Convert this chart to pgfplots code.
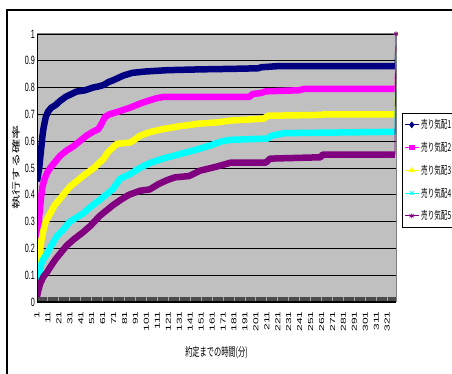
\documentclass[border=0pt]{standalone}
\usepackage{fontspec}
\setmainfont{Liberation Sans}
\newfontfamily\jp{Noto Sans CJK JP}
\usepackage{graphicx}
\usepackage{pgfplots}
\pgfplotsset{compat=1.18}
\usepackage{pgfplotstable}

\definecolor{sA}{RGB}{0,0,128}
\definecolor{sB}{RGB}{255,0,255}
\definecolor{sC}{RGB}{255,255,0}
\definecolor{sD}{RGB}{0,255,255}
\definecolor{sE}{RGB}{128,0,128}
\definecolor{plotbg}{RGB}{192,192,192}

% narrow text, as in the original spreadsheet export
\newcommand\sq[1]{\scalebox{0.6}[1]{#1}}
\newcommand\xl[1]{\scalebox{0.6}[1]{\rotatebox{90}{#1}}}

% minutes until execution vs. probability of execution
\pgfplotstableread{
m v
1 0.45
3 0.50
4 0.54
5 0.58
6 0.62
7 0.65
8 0.67
9 0.69
11 0.71
14 0.725
18 0.735
22 0.75
27 0.765
32 0.775
37 0.785
45 0.79
52 0.80
58 0.805
62 0.81
66 0.82
72 0.83
80 0.845
88 0.855
100 0.86
120 0.865
150 0.868
180 0.87
203 0.872
206 0.876
221 0.88
328 0.88
}\tA
\pgfplotstableread{
m v
1 0.16
2 0.26
3 0.32
4 0.36
5 0.40
6 0.43
8 0.46
10 0.48
13 0.50
17 0.52
22 0.545
28 0.565
34 0.58
40 0.60
46 0.62
52 0.635
57 0.645
60 0.665
63 0.69
67 0.70
75 0.71
86 0.725
95 0.74
102 0.75
110 0.76
116 0.765
195 0.765
198 0.776
206 0.78
210 0.786
240 0.79
245 0.795
328 0.795
}\tB
\pgfplotstableread{
m v
1 0.07
2 0.13
3 0.17
4 0.20
5 0.23
7 0.27
9 0.30
13 0.33
17 0.36
22 0.385
27 0.41
31 0.43
37 0.45
43 0.47
48 0.485
53 0.50
58 0.52
62 0.535
66 0.56
70 0.575
74 0.59
86 0.595
90 0.605
95 0.62
105 0.635
116 0.645
130 0.655
148 0.665
165 0.67
178 0.677
208 0.684
212 0.695
260 0.698
263 0.70
328 0.70
}\tC
\pgfplotstableread{
m v
1 0.035
2 0.07
3 0.10
4 0.13
6 0.155
10 0.18
14 0.21
19 0.245
25 0.27
31 0.30
37 0.315
43 0.33
50 0.355
58 0.38
64 0.40
70 0.42
77 0.46
85 0.475
95 0.50
105 0.52
116 0.535
130 0.55
148 0.57
160 0.585
170 0.60
178 0.605
212 0.61
215 0.62
227 0.63
328 0.635
}\tD
\pgfplotstableread{
m v
1 0.02
2 0.04
4 0.07
7 0.095
10 0.11
13 0.13
18 0.16
23 0.185
28 0.21
35 0.235
43 0.26
50 0.285
58 0.32
64 0.34
70 0.36
77 0.38
85 0.40
95 0.415
104 0.42
112 0.44
120 0.455
127 0.465
140 0.47
150 0.49
165 0.505
178 0.52
210 0.52
214 0.535
260 0.54
262 0.55
328 0.55
}\tE

\begin{document}
\begin{tikzpicture}[x=1pt,y=1pt]
\useasboundingbox (0,0) rectangle (452,374);
% chart frame
\draw[black, line width=1.2pt] (7,-20) -- (7,364) -- (480,364);
\begin{axis}[
  at={(37pt,72pt)}, anchor=south west,
  scale only axis, width=359pt, height=268pt,
  xmin=1, xmax=329, ymin=0, ymax=1,
  clip mode=individual,
  axis background/.style={fill=plotbg},
  axis line style={draw=gray, line width=1pt},
  tick pos=left,
  ytick={0,0.1,0.2,0.3,0.4,0.5,0.6,0.7,0.8,0.9,1},
  yticklabels={\sq{0},\sq{0.1},\sq{0.2},\sq{0.3},\sq{0.4},\sq{0.5},\sq{0.6},\sq{0.7},\sq{0.8},\sq{0.9},\sq{1}},
  yticklabel style={font=\fontsize{12}{14}\selectfont, inner sep=2pt},
  ytick style={draw=none},
  ymajorgrids,
  major grid style={black, line width=0.8pt},
  xtick={1,11,...,321},
  xticklabels={\xl{1},\xl{11},\xl{21},\xl{31},\xl{41},\xl{51},\xl{61},\xl{71},\xl{81},\xl{91},\xl{101},\xl{111},\xl{121},\xl{131},\xl{141},\xl{151},\xl{161},\xl{171},\xl{181},\xl{191},\xl{201},\xl{211},\xl{221},\xl{231},\xl{241},\xl{251},\xl{261},\xl{271},\xl{281},\xl{291},\xl{301},\xl{311},\xl{321}},
  xticklabel style={anchor=north, font=\fontsize{12}{14}\selectfont, yshift=-6pt},
  minor xtick={2,...,329},
  xtick align=inside,
  major tick length=4.5pt, minor tick length=4.5pt,
  major x tick style={gray!70, line width=0.9pt},
  minor x tick style={black!70, line width=1.15pt},
  xlabel={\jp\sq{約定までの時間(分)}},
  every axis x label/.style={at={(axis description cs:0.5,-0.19)}, anchor=center, font=\fontsize{12}{14}\selectfont},
  ylabel={\jp\sq{\rotatebox{90}{執行する確率}}},
  every axis y label/.style={at={(axis description cs:-0.0585,0.5)}, anchor=center, font=\fontsize{14}{16}\selectfont},
  legend image code/.code={\draw[mark repeat=2,mark phase=2] plot coordinates {(0pt,0pt)(7pt,0pt)(14pt,0pt)};},
  legend style={at={(axis description cs:1.0167,0.705)}, anchor=north west,
    draw=black, line width=0.8pt, fill=white,
    font=\fontsize{11}{13}\selectfont\jp, row sep=8pt,
    inner xsep=2pt, inner ysep=4pt, cells={anchor=west}},
  legend cell align=left,
]
\addplot[sA, line width=6.5pt, line join=round, forget plot] table[x=m,y=v] {\tA};
\addplot[sB, line width=6.5pt, line join=round, forget plot] table[x=m,y=v] {\tB};
\addplot[sC, line width=6.5pt, line join=round, forget plot] table[x=m,y=v] {\tC};
\addplot[sD, line width=6.5pt, line join=round, forget plot] table[x=m,y=v] {\tD};
\addplot[sE, line width=6.5pt, line join=round, forget plot] table[x=m,y=v] {\tE};
% final step to 1 at the last minute
\addplot[sA, line width=0.8pt, clip=false, forget plot, mark=diamond*, mark size=2pt, mark indices={2}] coordinates {(328,0.88) (329,1)};
\addplot[sB, line width=0.8pt, clip=false, forget plot, mark=square*, mark size=1.6pt, mark indices={2}] coordinates {(328,0.795) (329,1)};
\addplot[sC, line width=0.8pt, clip=false, forget plot, mark=triangle*, mark size=2pt, mark indices={2}] coordinates {(328,0.70) (329,1)};
\addplot[sD, line width=0.8pt, clip=false, forget plot, mark=x, mark size=2pt, mark indices={2}] coordinates {(328,0.635) (329,1)};
\addplot[sE, line width=0.8pt, clip=false, forget plot, mark=asterisk, mark size=2pt, mark indices={2}] coordinates {(328,0.55) (329,1)};
% left and bottom edges of the plot area
\draw[black, line width=1pt] (rel axis cs:0,1) -- (rel axis cs:0,0) -- (rel axis cs:1,0);
\addlegendimage{sA, line width=0.8pt, mark=diamond*, mark size=2.8pt}
\addlegendentry{\sq{売り気配1}}
\addlegendimage{sB, line width=0.8pt, mark=square*, mark size=2.2pt}
\addlegendentry{\sq{売り気配2}}
\addlegendimage{sC, line width=0.8pt, mark=triangle*, mark size=2.8pt}
\addlegendentry{\sq{売り気配3}}
\addlegendimage{sD, line width=0.8pt, mark=x, mark size=2.6pt}
\addlegendentry{\sq{売り気配4}}
\addlegendimage{sE, line width=0.8pt, mark=asterisk, mark size=2.6pt}
\addlegendentry{\sq{売り気配5}}
\end{axis}
\end{tikzpicture}
\end{document}
